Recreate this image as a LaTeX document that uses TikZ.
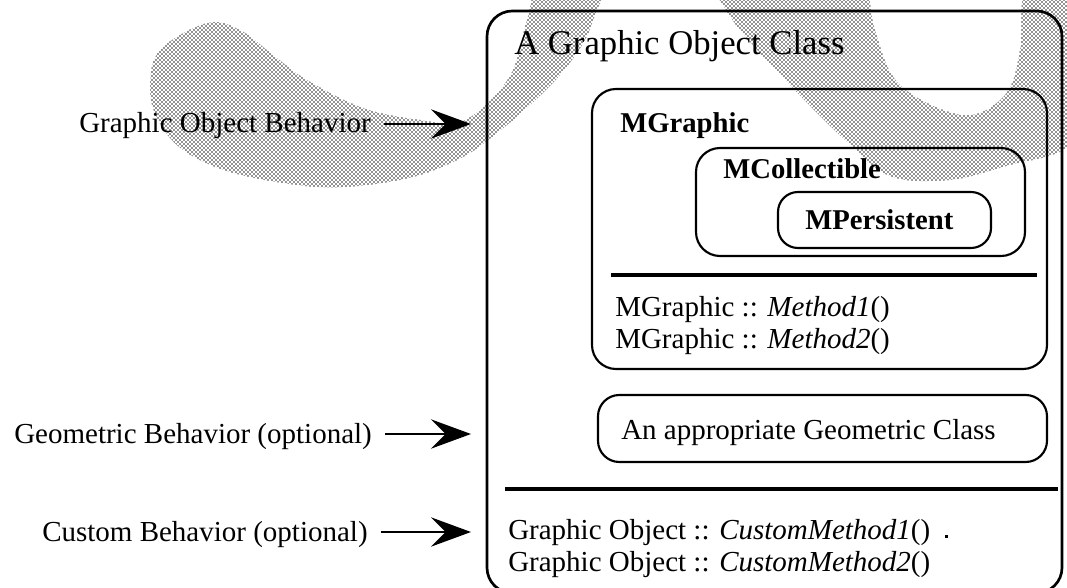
\documentclass[tikz,border=0pt]{standalone}
\usepackage{fontspec}
\setmainfont{Liberation Serif}
\usetikzlibrary{patterns,arrows.meta,fit}

% halftone dot screen on a diagonal grid
\pgfdeclarepatternformonly{halftone}{\pgfpoint{-1pt}{-1pt}}{\pgfpoint{4pt}{4pt}}{\pgfpoint{3pt}{3pt}}{%
  \pgfpathcircle{\pgfpoint{0pt}{0pt}}{0.62pt}%
  \pgfpathcircle{\pgfpoint{1.5pt}{1.5pt}}{0.62pt}%
  \pgfusepath{fill}}

\begin{document}
\begin{tikzpicture}[x=0.75pt,y=-0.75pt,
  lbl/.style={inner sep=0pt, anchor=base west, font=\fontsize{21.75}{26}\selectfont},
  ttl/.style={inner sep=0pt, anchor=base west, font=\fontsize{26}{30}\selectfont},
  cls/.style={inner sep=0pt, anchor=base west, font=\fontsize{21.5}{26}\selectfont\bfseries},
  box/.style={draw, line width=1.6pt, rounded corners=18pt, inner sep=0pt},
  outerbox/.style={draw, line width=2pt, rounded corners=19pt, inner sep=0pt},
  sep/.style={line width=3.5pt},
  arr/.style={line width=1.5pt, -{Stealth[length=30pt,width=22pt,inset=11pt]}},
  ribbon/.style={pattern=halftone, pattern color=black!85}
]
\useasboundingbox (0,0) rectangle (1067,588);

% halftone ribbon sweeping behind the class box
\begin{scope}
  \clip (0,0) rectangle (1067,588);
  \fill[ribbon] plot[smooth cycle, tension=0.6] coordinates {
    (207,23) (240,30) (273,55) (307,80) (363,108) (420,120) (460,122)
    (490,100) (513,70) (527,20) (545,-30) (620,-100) (720,-110) (820,-80)
    (862,-30) (875,30) (900,85) (963,115) (1005,95) (1020,50) (1025,-10)
    (1060,-50) (1110,-20) (1110,100) (1067,148) (1010,165) (950,180)
    (890,176) (845,140) (790,85) (740,30) (712,-10) (680,-35) (630,-30)
    (602,0) (585,40) (560,75) (530,105) (497,133) (463,157) (413,177)
    (347,187) (297,185) (230,172) (183,150) (158,120) (150,87) (160,50)};
\end{scope}

% class boxes
\node[outerbox, fit={(487,11) (1062,593)}] (outer) {};
\node[box, fit={(592,89) (1047,369)}] (mgraphic) {};
\node[box, fit={(696,148) (1025,256)}] (mcoll) {};
\node[box, rounded corners=15pt, fit={(778,192) (991,248)}] (mpers) {};
\node[box, rounded corners=16pt, fit={(598,395) (1047,462)}] (geom) {};

% separators
\draw[sep] (611,275) -- (1037,275);
\draw[sep] (505,489) -- (1058,489);

% texts inside the class
\node[ttl] (title) at (514,55) {A Graphic Object Class};
\node[cls] (tmg) at (620,133) {MGraphic};
\node[cls] (tmc) at (723,179) {MCollectible};
\node[cls] (tmp) at (805,229) {MPersistent};
\node[lbl] (m1) at (615,316) {MGraphic :: \textit{Method1}()};
\node[lbl] (m2) at (615,348) {MGraphic :: \textit{Method2}()};
\node[lbl] (tgeo) at (621,439) {An appropriate Geometric Class};
\node[lbl] (c1) at (508,539) {Graphic Object :: \textit{CustomMethod1}()};
\node[lbl] (c2) at (508,571) {Graphic Object :: \textit{CustomMethod2}()};
\fill (945,535) rectangle (948,537.5);

% behaviour labels and their arrows
\node[lbl] (gob) at (79,133) {Graphic Object Behavior};
\node[lbl] (geb) at (14,443) {Geometric Behavior (optional)};
\node[lbl] (cub) at (42,541) {Custom Behavior (optional)};

\foreach \n in {gob,geb,cub}
  \draw[arr] ([xshift=9.75pt,yshift=6.75pt]\n.base east)
          -- ([xshift=-11pt,yshift=6.75pt]\n.base east -| outer.west);
\end{tikzpicture}
\end{document}
